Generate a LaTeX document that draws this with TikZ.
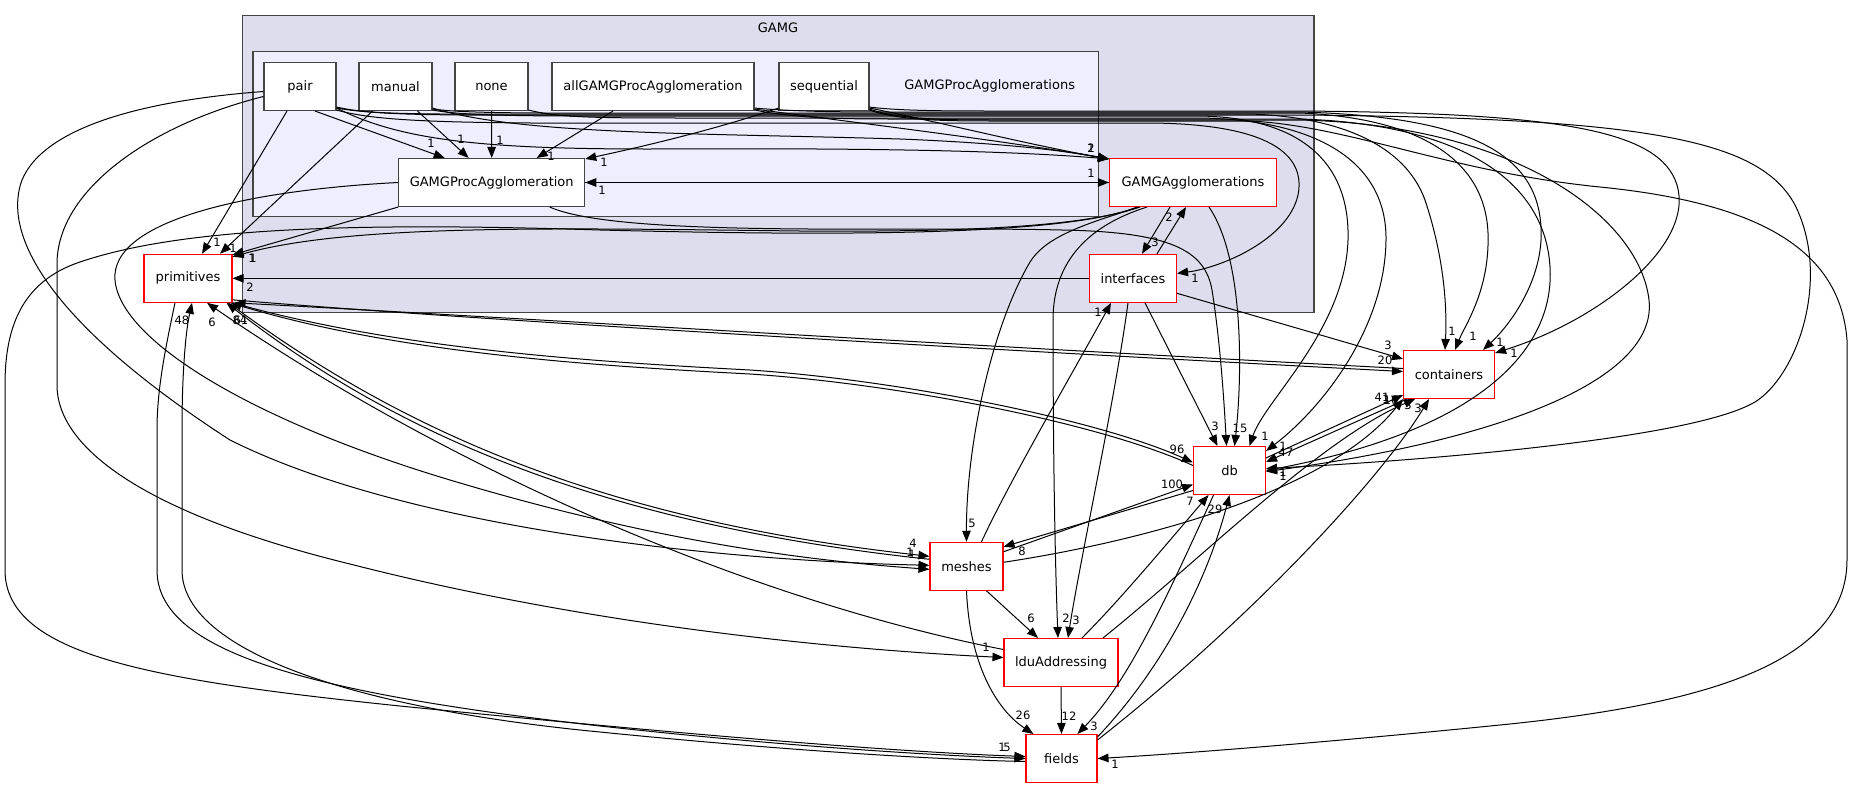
\documentclass[tikz,border=0pt]{standalone}
\usepackage{fontspec}
\setmainfont{DejaVu Sans}
\usetikzlibrary{arrows.meta,calc}
\definecolor{gamgfill}{HTML}{DDDDEE}
\definecolor{procfill}{HTML}{EEEEFF}
\definecolor{clborder}{HTML}{444444}
\newcommand\ndfont{\fontsize{13}{15}\selectfont}
\newcommand\lbfont{\fontsize{11.5}{13}\selectfont}
\begin{document}
\begin{tikzpicture}[x=1pt,y=-1pt,
  sub/.style={draw=clborder, fill=white, line width=1.1pt, minimum height=48pt, inner sep=0pt, font=\ndfont},
  ext/.style={draw=red, fill=white, line width=1.1pt, minimum height=48pt, inner sep=0pt, font=\ndfont},
  dep/.style={draw=black, line width=1pt, -{Triangle[length=11pt,width=8.5pt]}},
  lbl/.style={font=\lbfont, inner sep=0pt},
  cl/.style={font=\ndfont, inner sep=0pt}]
\useasboundingbox (0,0) rectangle (1853,788);
% clusters
\draw[fill=gamgfill, draw=clborder, line width=1.1pt] (242.4,15.7) rectangle (1314,312.7);
\node[cl] (cGAMG) at (778,28) {GAMG};
\draw[fill=procfill, draw=clborder, line width=1.1pt] (253,51.7) rectangle (1098.7,216.7);
\node[cl] (cProc) at (989.7,86) {GAMGProcAgglomerations};
% nodes
\node[sub, minimum width=72pt] (pair) at (300,86.5) {pair};
\node[sub, minimum width=73pt] (manual) at (395.5,86.5) {manual};
\node[sub, minimum width=73pt] (none) at (491.5,86.5) {none};
\node[sub, minimum width=202pt] (allG) at (653,86.5) {allGAMGProcAgglomeration};
\node[sub, minimum width=90pt] (seq) at (824,86.5) {sequential};
\node[sub, minimum width=186pt] (GPA) at (491.7,182.5) {GAMGProcAgglomeration};
\node[ext, minimum width=167pt] (GA) at (1193,182.5) {GAMGAgglomerations};
\node[ext, minimum width=87pt] (interfaces) at (1133,278.3) {interfaces};
\node[ext, minimum width=88pt] (primitives) at (188,278.3) {primitives};
\node[ext, minimum width=91pt] (containers) at (1449,374.5) {containers};
\node[ext, minimum width=72pt] (db) at (1229.5,470.5) {db};
\node[ext, minimum width=73pt] (meshes) at (966.5,566.3) {meshes};
\node[ext, minimum width=114pt] (ldu) at (1061,662.5) {lduAddressing};
\node[ext, minimum width=71pt] (fields) at (1061.5,758.5) {fields};
% edges inside GAMG
\draw[dep] ($(pair.south)+(-13,0)$) -- ($(primitives.north)+(14,0)$);
\draw[dep] ($(manual.south)+(-23,0)$) -- ($(primitives.north)+(32,0)$);
\draw[dep] (GPA.south west) -- ($(primitives.north east)+(0,1)$);
\draw[dep] ($(GA.south west)+(30,0)$) .. controls (1080,228) and (950,232) .. (800,231) .. controls (550,228) and (350,224) .. ($(primitives.north east)+(0,3)$);
\draw[dep] (interfaces.west) -- (primitives.east);
\draw[dep] ($(pair.south)+(15,0)$) -- ($(GPA.north)+(-47,0)$);
\draw[dep] ($(manual.south)+(22,0)$) -- ($(GPA.north)+(-23,0)$);
\draw[dep] (none.south) -- (GPA.north);
\draw[dep] ($(allG.south)+(-40,0)$) -- ($(GPA.north)+(45,0)$);
\draw[dep] ($(seq.south west)+(0,-3)$) .. controls (720,128) and (650,145) .. ($(GPA.north east)+(0,1)$);
\draw[dep] (GA.west) -- (GPA.east);
\draw[dep] (GPA.east) -- (GA.west);
\draw[dep] ($(pair.south east)+(0,-3)$) .. controls (400,140) and (480,149) .. (650,149) .. controls (850,148) and (1000,150) .. ($(GA.north west)+(0,1)$);
\draw[dep] ($(manual.south east)+(0,-3)$) .. controls (520,135) and (700,133) .. (900,139) .. controls (1000,143) and (1060,150) .. ($(GA.north west)+(0,1)$);
\draw[dep] ($(allG.south east)+(0,-2)$) .. controls (850,122) and (1000,140) .. ($(GA.north west)+(0,1)$);
\draw[dep] ($(seq.south east)+(0,-3)$) .. controls (930,120) and (1030,145) .. ($(GA.north west)+(0,1)$);
% bundle to the right
\draw[dep] ($(pair.south east)+(0,-1)$) .. controls (380,122) and (450,124) .. (700,123) -- (1150,123) .. controls (1280,124) and (1305,160) .. (1298,195) .. controls (1288,240) and (1220,268) .. ($(interfaces.east)+(0,-5)$);
\draw[dep] ($(manual.south east)+(0,-1)$) .. controls (470,117) and (550,116) .. (700,116) -- (1200,116) .. controls (1310,118) and (1350,170) .. (1348,240) .. controls (1345,330) and (1265,400) .. ($(db.north)+(20,0)$);
\draw[dep] ($(none.south east)+(0,-1)$) .. controls (560,118) and (600,118) .. (700,118) -- (1200,118) .. controls (1330,120) and (1387,170) .. (1386,240) .. controls (1385,330) and (1320,410) .. ($(db.north east)+(0,5)$);
\draw[dep] ($(pair.south east)+(0,-3)$) .. controls (380,116) and (450,114) .. (700,114) -- (1250,114) .. controls (1340,117) and (1405,145) .. (1425,200) .. controls (1445,260) and (1447,310) .. ($(containers.north)+(-4,0)$);
\draw[dep] ($(manual.south east)+(0,-2)$) .. controls (470,114) and (550,113) .. (700,113) -- (1300,113) .. controls (1420,118) and (1485,160) .. (1488,233) .. controls (1490,290) and (1465,325) .. ($(containers.north)+(6,0)$);
\draw[dep] ($(allG.south east)+(0,-3)$) .. controls (800,112) and (850,112) .. (900,112) -- (1300,112) .. controls (1450,116) and (1530,145) .. (1540,217) .. controls (1548,270) and (1515,320) .. ($(containers.north east)+(-12,0)$);
\draw[dep] ($(seq.south east)+(0,-4)$) .. controls (900,111) and (950,111) .. (1000,111) -- (1300,111) .. controls (1560,113) and (1660,130) .. (1677,185) .. controls (1695,245) and (1600,320) .. ($(containers.north east)+(0,3)$);
\draw[dep] ($(allG.south east)+(0,-1)$) .. controls (800,119) and (850,119) .. (900,119) -- (1300,119) .. controls (1460,124) and (1545,180) .. (1550,267) .. controls (1555,350) and (1480,430) .. (db.east);
\draw[dep] ($(seq.south east)+(0,-2)$) .. controls (900,120) and (950,120) .. (1000,120) -- (1300,120) .. controls (1520,125) and (1640,220) .. (1649,300) .. controls (1658,380) and (1500,440) .. ($(db.east)+(0,1)$);
\draw[dep] ($(pair.south east)+(0,-4)$) .. controls (380,117) and (450,115) .. (700,115) -- (1300,115) .. controls (1650,118) and (1760,140) .. (1795,205) .. controls (1830,275) and (1800,370) .. (1758,400) .. controls (1700,440) and (1400,462) .. ($(db.east)+(0,-2)$);
\draw[dep] ($(seq.south east)+(0,-1)$) .. controls (900,121) and (950,121) .. (1000,121) -- (1250,121) .. controls (1350,126) and (1450,172) .. (1600,187) .. controls (1760,203) and (1840,250) .. (1847,340) -- (1847,560) .. controls (1847,665) and (1700,705) .. (1500,725) .. controls (1300,745) and (1160,755) .. (fields.east);
% external edges
\draw[dep] ($(primitives.south east)+(0,-3)$) .. controls (450,318) and (900,345) .. ($(containers.west)+(0,-3)$);
\draw[dep] ($(containers.west)+(0,-6)$) .. controls (900,342) and (450,314) .. ($(primitives.south east)+(2,0)$);
\draw[dep] (primitives.south east) .. controls (400,350) and (600,362) .. (750,370) .. controls (900,380) and (1100,420) .. ($(db.west)+(0,-8)$);
\draw[dep] ($(db.west)+(0,-5)$) .. controls (1100,423) and (900,384) .. (750,374) .. controls (600,366) and (400,354) .. ($(primitives.south east)+(-2,0)$);
\draw[dep] ($(primitives.south east)+(-4,0)$) .. controls (400,430) and (600,520) .. ($(meshes.west)+(0,-10)$);
\draw[dep] ($(meshes.west)+(0,-7)$) .. controls (600,524) and (395,434) .. ($(primitives.south east)+(-6,0)$);
\draw[dep] (GPA.west) .. controls (250,190) and (110,220) .. (115,280) .. controls (120,340) and (250,420) .. (450,480) .. controls (650,540) and (800,560) .. ($(meshes.west)+(0,3)$);
\draw[dep] ($(pair.west)+(0,5)$) .. controls (150,100) and (45,125) .. (22,180) .. controls (0,240) and (60,330) .. (230,440) .. controls (400,525) and (700,560) .. ($(meshes.west)+(0,-1)$);
\draw[dep] ($(pair.west)+(0,10)$) .. controls (150,125) and (57,190) .. (57,264) -- (57,385) .. controls (57,450) and (150,515) .. (350,564) .. controls (600,628) and (850,650) .. ($(ldu.west)+(0,-5)$);
\draw[dep] ($(ldu.west)+(0,-13)$) .. controls (750,600) and (450,470) .. ($(primitives.south)+(19,0)$);
\draw[dep] ($(GA.south west)+(28,0)$) .. controls (1060,238) and (800,235) .. (600,230) .. controls (350,222) and (180,228) .. (80,262) .. controls (20,282) and (5,330) .. (5,385) -- (5,570) .. controls (5,655) and (150,680) .. (400,706) .. controls (700,736) and (900,752) .. ($(fields.west)+(0,-2)$);
\draw[dep] ($(primitives.south)+(-13,0)$) .. controls (165,350) and (157,390) .. (157,430) -- (157,570) .. controls (157,650) and (300,692) .. (600,726) .. controls (800,748) and (950,756) .. (fields.west);
\draw[dep] ($(fields.west)+(0,3)$) .. controls (950,760) and (800,752) .. (600,732) .. controls (350,708) and (182,650) .. (182,570) -- (182,430) .. controls (182,370) and (186,330) .. ($(primitives.south)+(4,0)$);
\draw[dep] ($(meshes.south)+(20,0)$) -- ($(ldu.north)+(-23,0)$);
\draw[dep] (meshes.south) .. controls (970,670) and (1000,712) .. ($(fields.north west)+(8,0)$);
\draw[dep] (ldu.south) -- (fields.north);
\draw[dep] ($(db.south)+(-16,0)$) .. controls (1170,590) and (1130,680) .. ($(fields.north)+(16,0)$);
\draw[dep] ($(fields.north east)+(0,3)$) .. controls (1170,660) and (1210,570) .. (db.south);
\draw[dep] ($(ldu.north)+(21,0)$) .. controls (1120,600) and (1170,540) .. ($(db.south)+(-21,0)$);
\draw[dep] ($(meshes.north east)+(0,10)$) -- ($(db.west)+(0,14)$);
\draw[dep] ($(db.west)+(0,20)$) -- ($(meshes.north east)+(0,5)$);
\draw[dep] ($(meshes.north)+(15,0)$) .. controls (1010,480) and (1080,360) .. ($(interfaces.south)+(-22,0)$);
\draw[dep] ($(meshes.east)+(0,-4)$) .. controls (1150,540) and (1330,490) .. (containers.south west);
\draw[dep] ($(db.north east)+(0,12)$) -- ($(containers.south west)+(0,-4)$);
\draw[dep] ($(containers.south west)+(4,0)$) -- ($(db.north east)+(0,16)$);
\draw[dep] ($(ldu.north)+(42,0)$) .. controls (1200,560) and (1320,440) .. ($(containers.south west)+(12,0)$);
\draw[dep] ($(fields.north east)+(0,6)$) .. controls (1250,620) and (1380,480) .. ($(containers.south)+(-20,0)$);
\draw[dep] ($(interfaces.east)+(0,15)$) -- ($(containers.north west)+(0,9)$);
\draw[dep] ($(interfaces.south)+(12,0)$) -- ($(db.north)+(-12,0)$);
\draw[dep] ($(interfaces.south)+(-5,0)$) .. controls (1115,400) and (1080,560) .. ($(ldu.north)+(7,0)$);
\draw[dep] ($(GA.south west)+(38,0)$) .. controls (1090,225) and (1053,260) .. (1053,320) .. controls (1053,450) and (1055,560) .. ($(ldu.north)+(-3,0)$);
\draw[dep] ($(GA.south west)+(31,0)$) .. controls (1080,225) and (1045,238) .. (1030,262) .. controls (990,330) and (966,450) .. (meshes.north);
\draw[dep] ($(GA.south)+(-23,0)$) -- ($(interfaces.north)+(9,0)$);
\draw[dep] ($(interfaces.north)+(24,0)$) -- ($(GA.south)+(-7,0)$);
\draw[dep] ($(GA.south)+(16,0)$) .. controls (1245,260) and (1242,380) .. ($(db.north)+(5,0)$);
\draw[dep] ($(GPA.south)+(58,0)$) .. controls (620,238) and (900,226) .. (1062,230) .. controls (1170,232) and (1205,250) .. (1212,290) .. controls (1220,340) and (1224,400) .. ($(db.north)+(-3,0)$);
% labels
\node[lbl] (t1) at (217,242) {1};
\node[lbl] (t2) at (233,248) {1};
\node[lbl] (t3) at (252,258) {1};
\node[lbl] (t3b) at (253,258) {1};
\node[lbl] (t4) at (250,287) {2};
\node[lbl] (t5) at (431,143) {1};
\node[lbl] (t6) at (461,139) {1};
\node[lbl] (t7) at (500,140) {1};
\node[lbl] (t8) at (551,156) {1};
\node[lbl] (t9) at (604,162) {1};
\node[lbl] (t10) at (602,190) {1};
\node[lbl] (t11) at (1091,173) {1};
\node[lbl] (t12) at (1091,148) {2};
\node[lbl] (t13) at (1091,148) {1};
\node[lbl] (t14) at (1195,278) {1};
\node[lbl] (t15) at (1265,436) {1};
\node[lbl] (t16) at (1283,446) {1};
\node[lbl] (t17) at (1286,452) {47};
\node[lbl] (t18) at (1452,331) {1};
\node[lbl] (t19) at (1473,336) {1};
\node[lbl] (t20) at (1500,342) {1};
\node[lbl] (t21) at (1514,353) {1};
\node[lbl] (t22) at (1283,472) {1};
\node[lbl] (t23) at (1283,476) {1};
\node[lbl] (t24) at (1115,764) {1};
\node[lbl] (t25) at (1382,397) {41};
\node[lbl] (t26) at (1386,399) {1};
\node[lbl] (t27) at (1391,400) {10};
\node[lbl] (t28) at (1408,405) {3};
\node[lbl] (t29) at (1418,408) {3};
\node[lbl] (t30) at (1388,345) {3};
\node[lbl] (t31) at (1385,360) {20};
\node[lbl] (t32) at (1215,426) {3};
\node[lbl] (t33) at (1240,428) {15};
\node[lbl] (t34) at (1177,449) {96};
\node[lbl] (t35) at (1172,484) {100};
\node[lbl] (t36) at (1190,501) {7};
\node[lbl] (t37) at (1215,509) {29};
\node[lbl] (t38) at (972,523) {5};
\node[lbl] (t39) at (913,543) {4};
\node[lbl] (t40) at (910,552) {1};
\node[lbl] (t41) at (912,554) {1};
\node[lbl] (t42) at (1022,551) {8};
\node[lbl] (t43) at (1155,242) {3};
\node[lbl] (t44) at (1169,217) {2};
\node[lbl] (t45) at (1098,312) {1};
\node[lbl] (t46) at (1031,618) {6};
\node[lbl] (t47) at (1066,618) {2};
\node[lbl] (t48) at (1076,620) {3};
\node[lbl] (t49) at (986,647) {1};
\node[lbl] (t50) at (1023,715) {26};
\node[lbl] (t51) at (1069,716) {12};
\node[lbl] (t52) at (1094,726) {3};
\node[lbl] (t53) at (1002,747) {1};
\node[lbl] (t54) at (1007,747) {5};
\node[lbl] (t55) at (182,320) {48};
\node[lbl] (t56) at (212,322) {6};
\node[lbl] (t57) at (240,320) {84};
\node[lbl] (t58) at (241,320) {61};
\end{tikzpicture}
\end{document}
